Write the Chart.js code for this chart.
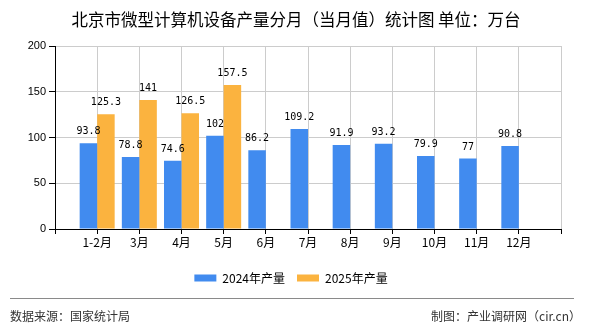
<!DOCTYPE html>
<html>
<head>
<meta charset="utf-8">
<script src="https://cdn.jsdelivr.net/npm/chart.js@4.4.1/dist/chart.umd.min.js"></script>
<style>
html, body { margin: 0; padding: 0; background: #fff; }
#wrap { position: relative; width: 590px; height: 330px; }
#c { position: absolute; left: 0; top: 0; }
.title { position: absolute; left: 0; width: 592px; top: 8px; text-align: center; font: 16.5px "Noto Sans CJK SC"; color: #000; line-height: 22px; white-space: nowrap; }
.footline { position: absolute; left: 10px; top: 298px; width: 564px; height: 1px; background: #8a8a8a; }
.foot { position: absolute; top: 307px; font: 12px "Noto Sans CJK SC"; color: #333; line-height: 17px; }
</style>
</head>
<body>
<div id="wrap">
  <canvas id="c" width="590" height="330"></canvas>
  <div class="title">北京市微型计算机设备产量分月（当月值）统计图 单位：万台</div>
  <div class="footline"></div>
  <div class="foot" style="left:10px">数据来源：国家统计局</div>
  <div class="foot" style="right:9px">制图：产业调研网（cir.cn）</div>
</div>
<script>
// blank slots at both ends keep the first/last month away from the axes
const months = ["", "1-2月", "3月", "4月", "5月", "6月", "7月", "8月", "9月", "10月", "11月", "12月", ""];
const output2024 = [null, 93.8, 78.8, 74.6, 102, 86.2, 109.2, 91.9, 93.2, 79.9, 77, 90.8, null];
const output2025 = [null, 125.3, 141, 126.5, 157.5, null, null, null, null, null, null, null, null];
const yTicks = [0, 50, 100, 150, 200];

const valueLabels = {
    id: "valueLabels",
    afterDatasetsDraw(chart) {
        const ctx = chart.ctx;
        ctx.save();
        ctx.font = '10px "DejaVu Sans Mono"';
        ctx.fillStyle = "#000";
        ctx.textAlign = "center";
        ctx.textBaseline = "alphabetic";
        chart.data.datasets.forEach((ds, i) => {
            chart.getDatasetMeta(i).data.forEach((bar, j) => {
                const v = ds.data[j];
                if (v == null) return;
                ctx.fillText(String(v), bar.x, bar.y - 9);
            });
        });
        ctx.restore();
    }
};

Chart.defaults.font.family = '"Noto Sans CJK SC", sans-serif';
Chart.defaults.color = "#000";

new Chart(document.getElementById("c"), {
    type: "bar",
    data: {
        labels: months,
        datasets: [
            { label: "2024年产量", data: output2024, backgroundColor: "#418bef", borderWidth: 0 },
            { label: "2025年产量", data: output2025, backgroundColor: "#fbb33f", borderWidth: 0 }
        ]
    },
    options: {
        responsive: false,
        animation: false,
        layout: { padding: { left: 21, right: 29, top: 46, bottom: 36 } },
        datasets: { bar: { categoryPercentage: 0.83, barPercentage: 1 } },
        plugins: {
            title: { display: false },
            legend: {
                position: "bottom",
                labels: {
                    boxWidth: 22,
                    boxHeight: 7,
                    padding: 12,
                    color: "#000",
                    font: { size: 12 }
                }
            },
            tooltip: { enabled: false }
        },
        scales: {
            x: {
                offset: false,
                grid: { offset: false, color: "#cccccc", tickColor: "#000", tickLength: 5 },
                border: { color: "#000" },
                ticks: { autoSkip: false, maxRotation: 0, padding: 1, font: { size: 12 } },
                afterFit(scale) { scale.height = 31; }
            },
            y: {
                min: 0,
                max: 200,
                afterBuildTicks(scale) { scale.ticks = yTicks.map(v => ({ value: v })); },
                grid: { color: "#cccccc", tickColor: "#000", tickLength: 6 },
                border: { color: "#000" },
                ticks: { padding: 3, font: { family: '"Liberation Sans"', size: 11 } },
                afterFit(scale) { scale.width = 34; }
            }
        }
    },
    plugins: [valueLabels]
});
</script>
</body>
</html>
